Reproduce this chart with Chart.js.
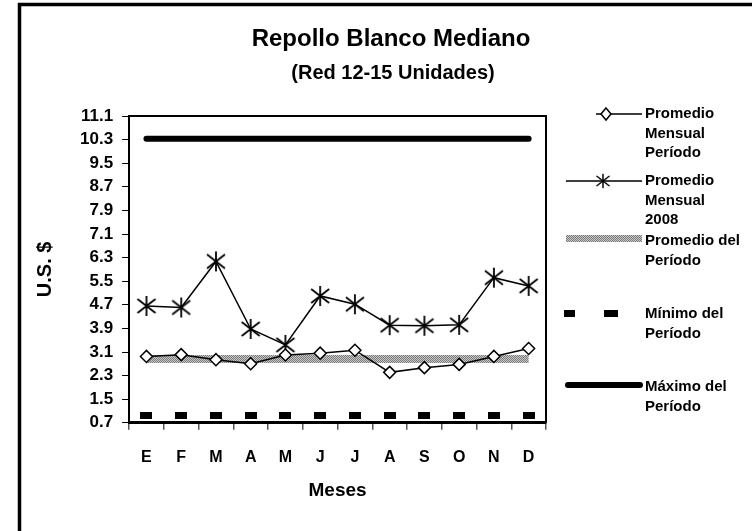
<!DOCTYPE html>
<html>
<head>
<meta charset="utf-8">
<script src="https://cdn.jsdelivr.net/npm/chart.js@4"></script>
<style>
  body { margin: 0; background: #fff; }
  #wrap { width: 752px; height: 531px; }
</style>
</head>
<body>
<div id="wrap"><canvas id="repollo" width="752" height="531"></canvas></div>
<script>
// Datos
const meses = ['E', 'F', 'M', 'A', 'M', 'J', 'J', 'A', 'S', 'O', 'N', 'D'];
const promedioMensualPeriodo = [2.95, 3.01, 2.84, 2.70, 3.00, 3.06, 3.16, 2.41, 2.57, 2.68, 2.95, 3.22];
const promedioMensual2008 = [4.66, 4.61, 6.17, 3.88, 3.34, 5.00, 4.72, 4.01, 3.99, 4.02, 5.62, 5.34];
const promedioPeriodo = [2.86, 2.86, 2.86, 2.86, 2.86, 2.86, 2.86, 2.86, 2.86, 2.86, 2.86, 2.86];
const minimoPeriodo = [0.95, 0.95, 0.95, 0.95, 0.95, 0.95, 0.95, 0.95, 0.95, 0.95, 0.95, 0.95];
const maximoPeriodo = [10.33, 10.33, 10.33, 10.33, 10.33, 10.33, 10.33, 10.33, 10.33, 10.33, 10.33, 10.33];
const yTicks = [0.7, 1.5, 2.3, 3.1, 3.9, 4.7, 5.5, 6.3, 7.1, 7.9, 8.7, 9.5, 10.3, 11.1];

const fuente = 'Arial, "Liberation Sans", sans-serif';

// Marcador asterisco (X con linea vertical)
function crearEstrella() {
    const c = document.createElement('canvas');
    c.width = 22; c.height = 22;
    const g = c.getContext('2d');
    g.strokeStyle = '#000';
    g.lineWidth = 1.8;
    g.beginPath();
    g.moveTo(11, 1); g.lineTo(11, 21);
    g.moveTo(2, 4); g.lineTo(20, 18);
    g.moveTo(20, 4); g.lineTo(2, 18);
    g.stroke();
    return c;
}

// Marcador guion del minimo
function crearGuion() {
    const c = document.createElement('canvas');
    c.width = 12; c.height = 7;
    const g = c.getContext('2d');
    g.fillStyle = '#000';
    g.fillRect(0, 0, 12, 7);
    return c;
}

// Trama gris de la banda del promedio
function crearTrama() {
    const c = document.createElement('canvas');
    c.width = 2; c.height = 2;
    const g = c.getContext('2d');
    g.fillStyle = '#c8c8c8'; g.fillRect(0, 0, 2, 2);
    g.fillStyle = '#7a7a7a'; g.fillRect(0, 0, 1, 1); g.fillRect(1, 1, 1, 1);
    return g.createPattern(c, 'repeat');
}

const estrella = crearEstrella();
const guion = crearGuion();
const trama = crearTrama();

// Titulos, marco, borde del area y leyenda
const decoracion = {
    id: 'decoracion',
    afterDraw(chart) {
        const ctx = chart.ctx;
        const a = chart.chartArea;
        ctx.save();
        // marco exterior
        ctx.strokeStyle = '#000';
        ctx.lineWidth = 3.5;
        ctx.strokeRect(19.5, 4.5, 900, 700);
        // borde superior y derecho del area de trazado
        ctx.lineWidth = 2;
        ctx.beginPath();
        ctx.moveTo(a.left, a.top);
        ctx.lineTo(a.right, a.top);
        ctx.lineTo(a.right, a.bottom);
        ctx.stroke();

        // titulos
        ctx.fillStyle = '#000';
        ctx.textAlign = 'center';
        ctx.textBaseline = 'alphabetic';
        ctx.font = 'bold 24px ' + fuente;
        ctx.fillText('Repollo Blanco Mediano', 391, 46);
        ctx.font = 'bold 20px ' + fuente;
        ctx.fillText('(Red 12-15 Unidades)', 393, 79);

        // titulo del eje x
        ctx.textBaseline = 'middle';
        ctx.font = 'bold 19px ' + fuente;
        ctx.fillText('Meses', (a.left + a.right) / 2, 491);

        // leyenda
        const x0 = 566, x1 = 642, xt = 645;
        ctx.font = 'bold 15px ' + fuente;
        ctx.textAlign = 'left';
        const textos = [
            [114, ['Promedio', 'Mensual', 'Período']],
            [181, ['Promedio', 'Mensual', '2008']],
            [241, ['Promedio del', 'Período']],
            [314, ['Mínimo del', 'Período']],
            [387, ['Máximo del', 'Período']]
        ];
        textos.forEach(([y, lineas]) => {
            lineas.forEach((t, i) => ctx.fillText(t, xt, y + i * 19.5));
        });

        ctx.strokeStyle = '#000';
        ctx.lineWidth = 1.5;
        ctx.beginPath();
        ctx.moveTo(x0 + 30, 114); ctx.lineTo(x1, 114);
        ctx.moveTo(x0, 181); ctx.lineTo(x1, 181);
        ctx.stroke();
        // rombo
        ctx.fillStyle = '#fff';
        ctx.beginPath();
        ctx.moveTo(606, 108); ctx.lineTo(611, 114); ctx.lineTo(606, 120); ctx.lineTo(601, 114);
        ctx.closePath();
        ctx.fill(); ctx.stroke();
        ctx.drawImage(estrella, 603 - 8, 181 - 8, 16, 16);
        // banda
        ctx.fillStyle = trama;
        ctx.fillRect(x0, 235, x1 - x0, 7);
        // guiones
        ctx.fillStyle = '#000';
        ctx.fillRect(564, 310, 11, 7);
        ctx.fillRect(604, 310, 14, 7);
        // maximo
        ctx.lineWidth = 6;
        ctx.lineCap = 'round';
        ctx.beginPath();
        ctx.moveTo(x0 + 2, 385); ctx.lineTo(x1 - 2, 385);
        ctx.stroke();
        ctx.restore();
    }
};

new Chart(document.getElementById('repollo').getContext('2d'), {
    type: 'line',
    data: {
        labels: meses,
        datasets: [
            {
                label: 'Promedio Mensual Período',
                data: promedioMensualPeriodo,
                borderColor: '#000',
                borderWidth: 1.5,
                pointStyle: 'rectRot',
                pointRadius: 6,
                pointBorderWidth: 1.5,
                pointBackgroundColor: '#fff',
                pointBorderColor: '#000',
                tension: 0
            },
            {
                label: 'Promedio Mensual 2008',
                data: promedioMensual2008,
                borderColor: '#000',
                borderWidth: 1.5,
                pointStyle: estrella,
                tension: 0
            },
            {
                label: 'Promedio del Período',
                data: promedioPeriodo,
                borderColor: trama,
                borderWidth: 8,
                borderCapStyle: 'butt',
                pointRadius: 0
            },
            {
                label: 'Mínimo del Período',
                data: minimoPeriodo,
                showLine: false,
                pointStyle: guion
            },
            {
                label: 'Máximo del Período',
                data: maximoPeriodo,
                borderColor: '#000',
                borderWidth: 6,
                borderCapStyle: 'round',
                pointRadius: 0
            }
        ]
    },
    options: {
        responsive: false,
        animation: false,
        events: [],
        layout: {
            padding: { top: 116, right: 206, bottom: 46, left: 33 }
        },
        plugins: {
            legend: { display: false },
            tooltip: { enabled: false }
        },
        scales: {
            x: {
                offset: true,
                grid: {
                    offset: true,
                    drawOnChartArea: false,
                    tickLength: 7,
                    color: '#555',
                    lineWidth: 1.5
                },
                border: { color: '#000', width: 3 },
                ticks: {
                    color: '#000',
                    padding: 18,
                    font: { family: fuente, size: 16, weight: 'bold' }
                }
            },
            y: {
                min: 0.7,
                max: 11.1,
                afterBuildTicks: (axis) => {
                    axis.ticks = yTicks.map(v => ({ value: v }));
                },
                grid: {
                    drawOnChartArea: false,
                    tickLength: 7,
                    color: '#000',
                    lineWidth: 1
                },
                border: { color: '#000', width: 2 },
                ticks: {
                    color: '#000',
                    padding: 9,
                    autoSkip: false,
                    callback: (v) => v.toFixed(1),
                    font: { family: fuente, size: 17, weight: 'bold' }
                },
                title: {
                    display: true,
                    text: 'U.S. $',
                    color: '#000',
                    padding: { top: 0, bottom: 14 },
                    font: { family: fuente, size: 20, weight: 'bold' }
                }
            }
        }
    },
    plugins: [decoracion]
});
</script>
</body>
</html>
